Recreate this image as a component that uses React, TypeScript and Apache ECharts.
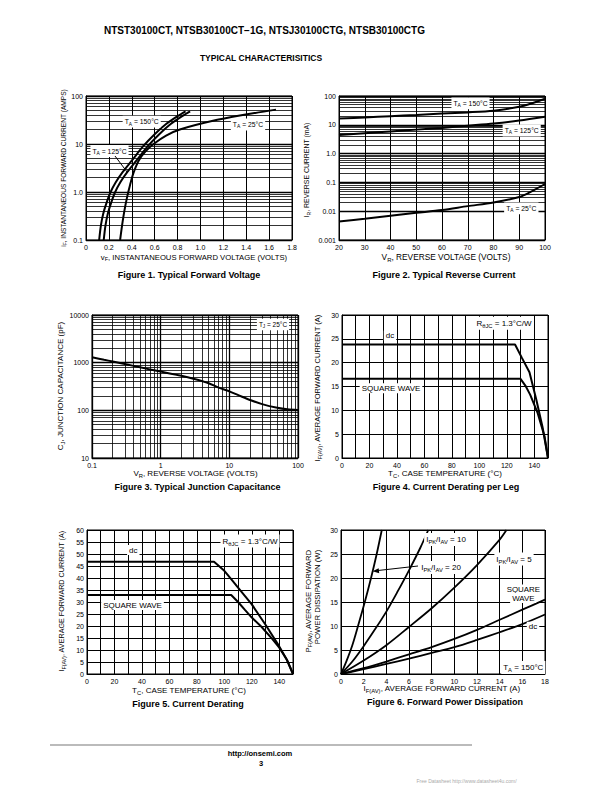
import React, { useEffect, useRef } from 'react';
import * as echarts from 'echarts';

const FONT = '"Liberation Sans", Arial, Helvetica, sans-serif';

// ---------- Figure 1: Typical Forward Voltage (V, A) ----------
const fig1Ta150: [number, number][] = [[0.115, 0.1], [0.13, 0.2], [0.15, 0.35], [0.18, 0.6], [0.215, 1], [0.26, 1.6], [0.32, 2.6], [0.4, 4.5], [0.5, 9], [0.6, 16], [0.7, 26], [0.8, 38], [0.87, 48]];
const fig1Ta125: [number, number][] = [[0.155, 0.1], [0.17, 0.2], [0.19, 0.35], [0.22, 0.6], [0.255, 1], [0.3, 1.6], [0.36, 2.6], [0.44, 4.5], [0.54, 9], [0.64, 16], [0.74, 26], [0.84, 38], [0.91, 48]];
const fig1Ta25: [number, number][] = [[0.298, 0.1], [0.315, 0.2], [0.335, 0.4], [0.36, 0.8], [0.385, 1.4], [0.415, 2.5], [0.46, 4.5], [0.52, 7], [0.59, 10], [0.7, 15], [0.82, 20], [1.1, 30], [1.37, 40], [1.66, 52]];
const fig1XTicks = ['0', '0.2', '0.4', '0.6', '0.8', '1.0', '1.2', '1.4', '1.6', '1.8'];
const fig1YTicks = ['0.1', '1.0', '10', '100'];

// ---------- Figure 2: Typical Reverse Current (V, mA) ----------
const fig2Ta150: [number, number][] = [[20, 16.5], [30, 18], [40, 20], [50, 22], [60, 24.5], [70, 27], [80, 31], [90, 42], [95, 56], [100, 80]];
const fig2Ta125: [number, number][] = [[20, 4.4], [30, 5.1], [40, 5.9], [50, 6.8], [60, 7.8], [70, 9.3], [80, 11.1], [90, 14], [100, 19]];
const fig2Ta25: [number, number][] = [[20, 0.0044], [30, 0.0055], [40, 0.007], [50, 0.0088], [60, 0.011], [70, 0.015], [80, 0.02], [90, 0.031], [95, 0.05], [100, 0.088]];
const fig2XTicks = ['20', '30', '40', '50', '60', '70', '80', '90', '100'];
const fig2YTicks = ['0.001', '0.01', '0.1', '1.0', '10', '100'];

// ---------- Figure 3: Typical Junction Capacitance (V, pF) ----------
const fig3Cj: [number, number][] = [[0.1, 1300], [0.15, 1150], [0.2, 1060], [0.3, 940], [0.5, 800], [0.7, 720], [1, 650], [2, 530], [3, 460], [5, 370], [7, 300], [10, 250], [15, 195], [20, 165], [30, 135], [50, 113], [70, 105], [100, 102]];
const fig3XTicks = ['0.1', '1', '10', '100'];
const fig3YTicks = ['10', '100', '1000', '10000'];

// ---------- Figure 4: Current Derating per Leg (°C, A) ----------
const fig4Dc: [number, number][] = [[0, 23.8], [126, 23.8], [131, 21], [136.5, 18], [141.5, 12.2], [146, 6.5], [150, 0]];
const fig4Square: [number, number][] = [[0, 16.6], [130, 16.6], [133.5, 15.2], [137, 13.3], [142.5, 9.4], [147.5, 4.5], [150, 0]];
const fig45XTicks = ['0', '20', '40', '60', '80', '100', '120', '140'];
const fig4YTicks = ['0', '5', '10', '15', '20', '25', '30'];

// ---------- Figure 5: Current Derating (°C, A) ----------
const fig5Dc: [number, number][] = [[0, 46.8], [92.5, 46.8], [100, 43], [105, 39.5], [110, 36], [120, 29], [130, 20.5], [140, 11.5], [145, 6.5], [150, 0]];
const fig5Square: [number, number][] = [[0, 32.9], [105, 32.9], [110, 30], [115, 26.7], [120, 23.5], [127, 19.7], [135, 14.5], [140, 11], [146, 5.5], [150, 0]];
const fig5YTicks = ['0', '5', '10', '15', '20', '25', '30', '35', '40', '45', '50', '55', '60'];

// ---------- Figure 6: Forward Power Dissipation (A, W) ----------
const fig6Ratio20: [number, number][] = [[0, 0], [0.5, 2.8], [1, 6], [1.5, 10], [2.1, 15], [2.65, 20], [3.15, 25], [3.6, 30]];
const fig6Ratio10: [number, number][] = [[0, 0], [1, 2.6], [2, 5.8], [3, 9.3], [4, 13], [5, 17.2], [6, 21.6], [7, 26.3], [7.7, 30]];
const fig6Ratio5: [number, number][] = [[0, 0], [2, 2.8], [4, 6], [6, 9.8], [8, 13.7], [10, 18], [12, 22.7], [14, 28], [14.6, 30]];
const fig6Square: [number, number][] = [[0, 0], [2, 1.2], [4, 2.6], [6, 4.1], [8, 5.6], [10, 7.3], [12, 9.2], [14, 11.3], [16, 13.4], [18, 15.5]];
const fig6Dc: [number, number][] = [[0, 0], [2, 1], [4, 2.1], [6, 3.2], [8, 4.4], [10, 5.6], [12, 7.1], [14, 8.7], [16, 10.4], [18, 12.4]];
const fig6XTicks = ['0', '2', '4', '6', '8', '10', '12', '14', '16', '18'];
const fig6YTicks = ['0', '5', '10', '15', '20', '25', '30'];

// ---------- helpers ----------
const linFmt = (ticks: string[], min: number, step: number) => (v: number) => {
  const k = (v - min) / step;
  const r = Math.round(k);
  return Math.abs(k - r) < 1e-6 ? ticks[r] ?? '' : '';
};
const logFmt = (ticks: string[], minExp: number) => (v: number) => {
  const e = Math.log10(v);
  const r = Math.round(e);
  return Math.abs(e - r) < 1e-6 ? ticks[r - minExp] ?? '' : '';
};
const minorValues = (lo: number, hi: number) => {
  const out: number[] = [];
  for (let d = lo; d < hi * 0.999; d *= 10) {
    for (let k = 2; k <= 9; k++) out.push(Number((k * d).toPrecision(6)));
  }
  return out;
};

function axis(gridIndex: number, kind: 'x' | 'y', type: 'value' | 'log', min: number, max: number, interval: number | undefined, formatter: (v: number) => string) {
  const a: any = {
    gridIndex,
    type,
    min,
    max,
    axisLine: { show: true, onZero: false, lineStyle: { color: '#000', width: 1 } },
    axisTick: { show: false },
    splitLine: { show: true, lineStyle: { color: '#000', width: type === 'log' ? 1.3 : 1 } },
    axisLabel: {
      color: '#000', fontSize: 7, fontFamily: FONT, margin: kind === 'x' ? 4 : 3,
      showMinLabel: true, showMaxLabel: true, formatter,
    },
  };
  if (type === 'log') a.logBase = 10;
  if (interval !== undefined) a.interval = interval;
  return a;
}

function curve(i: number, data: [number, number][], smooth: number | boolean, width = 2) {
  return {
    type: 'line', xAxisIndex: i, yAxisIndex: i, data, showSymbol: false, symbol: 'none',
    smooth, silent: true, z: 3, lineStyle: { color: '#000', width },
  };
}

function minorGrid(i: number, anchor: [number, number], lines: any[]) {
  return {
    type: 'line', xAxisIndex: i, yAxisIndex: i, data: [anchor], showSymbol: false, symbol: 'none',
    silent: true, z: 1, lineStyle: { width: 0, opacity: 0 },
    markLine: {
      silent: true, animation: false, symbol: ['none', 'none'], label: { show: false },
      emphasis: { disabled: true },
      lineStyle: { color: '#000', width: 0.8, type: 'solid', opacity: 1 },
      data: lines,
    },
  };
}

function txt(x: number, y: number, text: string, fs: number, o: { bold?: boolean; rot?: number; bg?: string; color?: string } = {}) {
  const color = o.color || '#000';
  const weight = o.bold ? 'bold' : 'normal';
  return {
    type: 'text', x, y, rotation: o.rot || 0, z: 100, silent: true,
    style: {
      text, fill: color, fontSize: fs, fontFamily: FONT, fontWeight: weight,
      align: 'center', verticalAlign: 'middle',
      backgroundColor: o.bg, padding: o.bg ? [1, 2] : 0,
      rich: {
        n: { fontSize: fs, fontFamily: FONT, fontWeight: weight, fill: color, lineHeight: fs + 3, verticalAlign: 'middle' },
        s: { fontSize: Math.round(fs * 0.72 * 10) / 10, fontFamily: FONT, fontWeight: weight, fill: color, lineHeight: fs + 3, verticalAlign: 'bottom' },
      },
    },
  };
}

const ROT = Math.PI / 2;

function buildOption() {
  const grids = [
    { left: 86, top: 96, width: 206, height: 144 },
    { left: 339, top: 96, width: 206, height: 144 },
    { left: 92, top: 315, width: 206, height: 143 },
    { left: 342, top: 315, width: 206, height: 143 },
    { left: 87, top: 530, width: 206, height: 144 },
    { left: 341, top: 530, width: 204, height: 144 },
  ].map((g) => ({ ...g, show: true, borderColor: '#000', borderWidth: 1, backgroundColor: 'transparent', containLabel: false }));

  const xAxis = [
    axis(0, 'x', 'value', 0, 1.8, 0.2, linFmt(fig1XTicks, 0, 0.2)),
    axis(1, 'x', 'value', 20, 100, 10, linFmt(fig2XTicks, 20, 10)),
    axis(2, 'x', 'log', 0.1, 100, undefined, logFmt(fig3XTicks, -1)),
    axis(3, 'x', 'value', 0, 150, 10, linFmt(fig45XTicks, 0, 20)),
    axis(4, 'x', 'value', 0, 150, 10, linFmt(fig45XTicks, 0, 20)),
    axis(5, 'x', 'value', 0, 18, 2, linFmt(fig6XTicks, 0, 2)),
  ];
  const yAxis = [
    axis(0, 'y', 'log', 0.1, 100, undefined, logFmt(fig1YTicks, -1)),
    axis(1, 'y', 'log', 0.001, 100, undefined, logFmt(fig2YTicks, -3)),
    axis(2, 'y', 'log', 10, 10000, undefined, logFmt(fig3YTicks, 1)),
    axis(3, 'y', 'value', 0, 30, 5, linFmt(fig4YTicks, 0, 5)),
    axis(4, 'y', 'value', 0, 60, 5, linFmt(fig5YTicks, 0, 5)),
    axis(5, 'y', 'value', 0, 30, 5, linFmt(fig6YTicks, 0, 5)),
  ];

  const series: any[] = [
    minorGrid(0, [0.9, 1], minorValues(0.1, 100).map((v) => ({ yAxis: v }))),
    minorGrid(1, [50, 1], minorValues(0.001, 100).map((v) => ({ yAxis: v }))),
    minorGrid(2, [1, 100], [
      ...minorValues(0.1, 100).map((v) => ({ xAxis: v })),
      ...minorValues(10, 10000).map((v) => ({ yAxis: v })),
    ]),
    curve(0, fig1Ta150, 0.3),
    curve(0, fig1Ta125, 0.3),
    curve(0, fig1Ta25, 0.3),
    curve(1, fig2Ta150, 0.3),
    curve(1, fig2Ta125, 0.3),
    curve(1, fig2Ta25, 0.3),
    curve(2, fig3Cj, 0.3),
    curve(3, fig4Dc, false),
    curve(3, fig4Square, false),
    curve(4, fig5Dc, false),
    curve(4, fig5Square, false),
    curve(5, fig6Ratio20, 0.3, 1.8),
    curve(5, fig6Ratio10, 0.3, 1.8),
    curve(5, fig6Ratio5, 0.3, 1.8),
    curve(5, fig6Square, 0.3, 1.8),
    curve(5, fig6Dc, 0.3, 1.8),
  ];

  const ta = (t: string) => `{n|T}{s|A}{n| = ${t}}`;
  const ratio = (r: string) => `{n|I}{s|PK}{n|/I}{s|AV}{n| = ${r}}`;
  const rth = '{n|R}{s|θJC}{n| = 1.3°C/W}';
  const ifav = '{n|I}{s|F(AV)}{n|, AVERAGE FORWARD CURRENT (A)}';
  const tc = '{n|T}{s|C}{n|, CASE TEMPERATURE (°C)}';

  const graphic: any[] = [
    txt(264.5, 30, 'NTST30100CT, NTSB30100CT\u22121G, NTSJ30100CTG, NTSB30100CTG', 10, { bold: true }),
    txt(261, 57.5, 'TYPICAL CHARACTERISITICS', 8.5, { bold: true }),

    // Figure 1
    txt(194, 257, '{n|v}{s|F}{n|, INSTANTANEOUS FORWARD VOLTAGE (VOLTS)}', 7.7),
    txt(63.5, 168, '{n|i}{s|F}{n|, INSTANTANEOUS FORWARD CURRENT (AMPS)}', 6.6, { rot: ROT }),
    txt(189, 275, 'Figure 1. Typical Forward Voltage', 9, { bold: true }),
    txt(141.7, 121.7, ta('150°C'), 6.8, { bg: '#fff' }),
    txt(109.5, 151, ta('125°C'), 6.8, { bg: '#fff' }),
    txt(248, 124.5, ta('25°C'), 6.8, { bg: '#fff' }),
    { type: 'line', z: 100, silent: true, shape: { x1: 115, y1: 156, x2: 127.3, y2: 172.3 }, style: { stroke: '#000', lineWidth: 1 } },

    // Figure 2
    txt(446, 257, '{n|V}{s|R}{n|, REVERSE VOLTAGE (VOLTS)}', 8.3),
    txt(306.5, 170, '{n|I}{s|R}{n|, REVERSE CURRENT (mA)}', 6.9, { rot: ROT }),
    txt(444, 275, 'Figure 2. Typical Reverse Current', 9, { bold: true }),
    txt(470.5, 103.3, ta('150°C'), 6.8, { bg: '#fff' }),
    txt(521.7, 130.5, ta('125°C'), 6.8, { bg: '#fff' }),
    txt(521.3, 208.3, ta('25°C'), 6.8, { bg: '#fff' }),

    // Figure 3
    txt(195.5, 473.5, '{n|V}{s|R}{n|, REVERSE VOLTAGE (VOLTS)}', 8),
    txt(60.5, 386, '{n|C}{s|J}{n|, JUNCTION CAPACITANCE (pF)}', 8, { rot: ROT }),
    txt(197.5, 486.5, 'Figure 3. Typical Junction Capacitance', 9, { bold: true }),
    txt(273, 324.5, '{n|T}{s|J}{n| = 25°C}', 6.5, { bg: '#fff' }),

    // Figure 4
    txt(445, 473.5, tc, 8),
    txt(317.5, 388, ifav, 7.5, { rot: ROT }),
    txt(446, 486.5, 'Figure 4. Current Derating per Leg', 9, { bold: true }),
    txt(504, 323.3, rth, 8, { bg: '#fff' }),
    txt(390, 335.5, 'dc', 8, { bg: '#fff' }),
    txt(391, 388.3, 'SQUARE WAVE', 8, { bg: '#fff' }),

    // Figure 5
    txt(189, 690, tc, 8),
    txt(61, 601, ifav, 7.2, { rot: ROT }),
    txt(188, 703.5, 'Figure 5. Current Derating', 9, { bold: true }),
    txt(250, 541, rth, 8, { bg: '#fff' }),
    txt(133.3, 550, 'dc', 8, { bg: '#fff' }),
    txt(132.5, 605, 'SQUARE WAVE', 8, { bg: '#fff' }),

    // Figure 6
    txt(442, 688, ifav, 8),
    txt(308, 601, '{n|P}{s|F(AV)}{n|, AVERAGE FORWARD}', 7.8, { rot: ROT }),
    txt(317.5, 597, 'POWER DISSIPATION (W)', 7.8, { rot: ROT }),
    txt(445, 702, 'Figure 6. Forward Power Dissipation', 9, { bold: true }),
    txt(446, 539.5, ratio('10'), 8, { bg: '#fff' }),
    txt(441, 567.5, ratio('20'), 8, { bg: '#fff' }),
    { type: 'line', z: 100, silent: true, shape: { x1: 418, y1: 566, x2: 378, y2: 570.5 }, style: { stroke: '#000', lineWidth: 1 } },
    { type: 'polygon', z: 100, silent: true, shape: { points: [[372.5, 571.2], [379.2, 573.2], [378.7, 568.2]] }, style: { fill: '#000' } },
    txt(514, 559, ratio('5'), 8, { bg: '#fff' }),
    txt(523.3, 589.5, 'SQUARE', 7.9, { bg: '#fff' }),
    txt(523.3, 598, 'WAVE', 7.9, { bg: '#fff' }),
    txt(533, 626.7, 'dc', 8, { bg: '#fff' }),
    txt(523.3, 667.5, ta('150°C'), 8, { bg: '#fff' }),

    // Footer
    { type: 'line', z: 100, silent: true, shape: { x1: 50, y1: 745, x2: 472, y2: 745 }, style: { stroke: '#bbbbbb', lineWidth: 2 } },
    txt(260, 753, 'http://onsemi.com', 7.5, { bold: true }),
    txt(261, 763, '3', 7.5, { bold: true }),
    txt(466.5, 781, 'Free Datasheet http://www.datasheet4u.com/', 5, { color: '#aaaaaa' }),
  ];

  return {
    animation: false,
    backgroundColor: '#fff',
    grid: grids,
    xAxis,
    yAxis,
    series,
    graphic,
  };
}

export default function App() {
  const ref = useRef<HTMLDivElement>(null);
  useEffect(() => {
    const el = ref.current;
    if (!el) return;
    const chart = echarts.init(el, undefined, { renderer: 'svg', width: 612, height: 792 });
    chart.setOption(buildOption() as any);
    return () => chart.dispose();
  }, []);
  return (
    <div
      ref={ref}
      style={{ position: 'absolute', left: 0, top: 0, width: 612, height: 792, background: '#fff' }}
    />
  );
}
